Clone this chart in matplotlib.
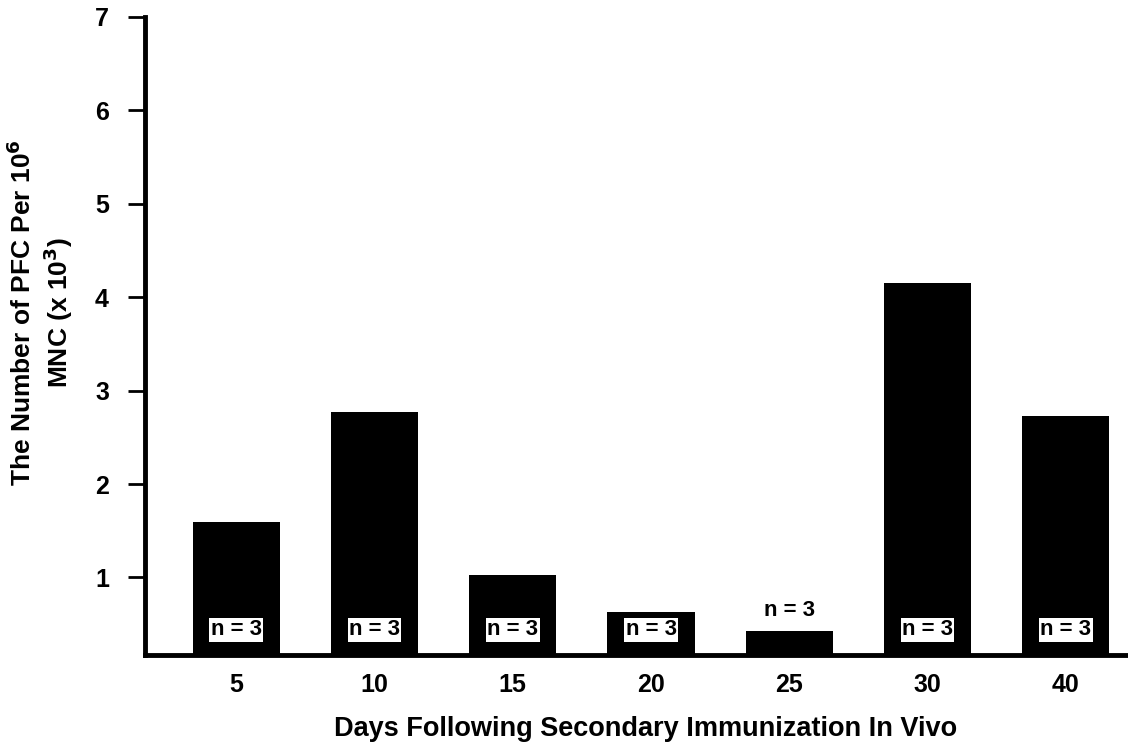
import matplotlib
matplotlib.use("Agg")
import matplotlib.pyplot as plt

categories = ["5", "10", "15", "20", "25", "30", "40"]
values = [1.59, 2.77, 1.03, 0.63, 0.43, 4.15, 2.73]
n_labels = ["n = 3"] * 7
yticks = [1, 2, 3, 4, 5, 6, 7]
y_base = 0.17

plt.rcParams['font.family'] = ['Liberation Sans', 'DejaVu Sans']
plt.rcParams['font.weight'] = 'bold'

fig = plt.figure(figsize=(11.28, 7.46), dpi=100)
ax = fig.add_axes([145/1128, 1 - 655/746, 1 - 145/1128, (655 - 17)/746])

x = list(range(len(categories)))
heights = [v - y_base for v in values]
ax.bar(x, heights, width=0.63, bottom=y_base, color='black')
ax.set_xlim(-0.66, 6.45)
ax.set_ylim(y_base, 7.0)

for xi, v, lab in zip(x, values, n_labels):
    if v < 0.5:
        ax.text(xi, v + 0.1, lab, ha='center', va='bottom', fontsize=16,
                fontweight='bold', color='black')
    else:
        ax.text(xi, 0.44, lab, ha='center', va='center', fontsize=16,
                fontweight='bold', color='black',
                bbox=dict(boxstyle='square,pad=0.06', fc='white', ec='none'))

ax.set_xticks(x)
ax.set_xticklabels(categories, fontsize=18, fontweight='bold')
ax.set_yticks(yticks)
ax.set_yticklabels([str(t) for t in yticks], fontsize=18, fontweight='bold')
ax.tick_params(axis='x', length=0, pad=13)
ax.tick_params(axis='y', length=12, width=2, pad=14)
for s in ['top', 'right']:
    ax.spines[s].set_visible(False)
ax.spines['left'].set_linewidth(3.5)
ax.spines['bottom'].set_linewidth(3.5)

fig.text(646/1128, 1 - 729/746, "Days Following Secondary Immunization In Vivo",
         ha='center', va='center', fontsize=19.5, fontweight='bold')
fig.text(22/1128, 1 - 313/746, "The Number of PFC Per 10$^{\\mathbf{6}}$",
         rotation=90, ha='center', va='center', fontsize=19, fontweight='bold')
fig.text(58/1128, 1 - 313/746, "MNC (x 10$^{\\mathbf{3}}$)",
         rotation=90, ha='center', va='center', fontsize=19, fontweight='bold')

fig.savefig("out.png", dpi=100)
